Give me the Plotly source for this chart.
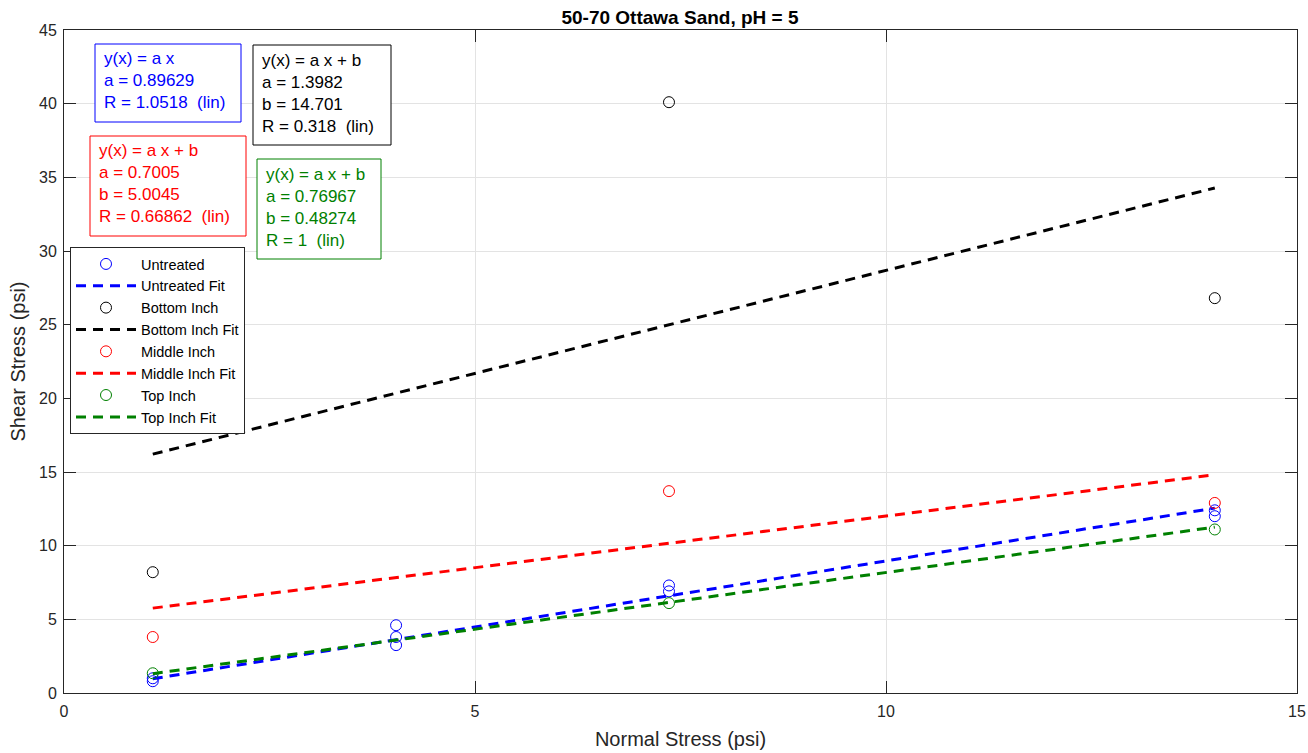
import plotly.graph_objects as go

# ---------------- data ----------------
x_untreated = [1.08, 1.08, 4.04, 4.04, 4.04, 7.36, 7.36, 14.0, 14.0]
y_untreated = [1.0, 0.8, 4.6, 3.8, 3.25, 7.3, 6.9, 12.4, 12.0]
x_bottom = [1.08, 7.36, 14.0]
y_bottom = [8.2, 40.1, 26.8]
x_middle = [1.08, 7.36, 14.0]
y_middle = [3.8, 13.7, 12.9]
x_top = [1.08, 7.36, 14.0]
y_top = [1.34, 6.1, 11.1]

fit_x = [1.08, 14.0]
untreated_fit = [0.89629, 0.0]
bottom_fit = [1.3982, 14.701]
middle_fit = [0.7005, 5.0045]
top_fit = [0.76967, 0.48274]

untreated_text = ["y(x) = a x", "a = 0.89629", "R = 1.0518  (lin)"]
bottom_text = ["y(x) = a x + b", "a = 1.3982", "b = 14.701", "R = 0.318  (lin)"]
middle_text = ["y(x) = a x + b", "a = 0.7005", "b = 5.0045", "R = 0.66862  (lin)"]
top_text = ["y(x) = a x + b", "a = 0.76967", "b = 0.48274", "R = 1  (lin)"]

x_ticks = [0, 5, 10, 15]
y_ticks = [0, 5, 10, 15, 20, 25, 30, 35, 40, 45]

# ---------------- style ----------------
FONT = "Liberation Sans, Arial, Helvetica, sans-serif"
BLUE, BLACK, RED, GREEN = "#0000FF", "#000000", "#FF0000", "#008000"
AX = "#262626"
DASH = "10px,7px"

W, H = 1308, 753
# target plot area in screen pixels
SX0, SX1, SY0, SY1 = 64, 1297, 30, 693
L, T = SX0, SY0
R, B = W - SX1, H - SY1
PW, PH = SX1 - SX0, SY1 - SY0


def px(xs):
    return (xs - SX0) / PW


def py(ys):
    return (SY1 - ys) / PH


def fit_line(coef):
    return [coef[0] * x + coef[1] for x in fit_x]


fig = go.Figure()

series = [
    ("Untreated", x_untreated, y_untreated, untreated_fit, BLUE),
    ("Bottom Inch", x_bottom, y_bottom, bottom_fit, BLACK),
    ("Middle Inch", x_middle, y_middle, middle_fit, RED),
    ("Top Inch", x_top, y_top, top_fit, GREEN),
]

for name, xs, ys, coef, col in series:
    fig.add_trace(go.Scatter(
        x=xs, y=ys, mode="markers", name=name,
        marker=dict(symbol="circle-open", size=11, color=col, line=dict(width=1, color=col)),
    ))
    fig.add_trace(go.Scatter(
        x=fit_x, y=fit_line(coef), mode="lines", name=name + " Fit",
        line=dict(color=col, width=3, dash=DASH),
    ))

# annotation boxes (screen pixel boxes: left, right, top, bottom)
boxes = [
    (untreated_text, BLUE, (95, 241, 44, 122), 103),
    (bottom_text, BLACK, (253, 391, 45, 145), 261),
    (middle_text, RED, (90, 246, 136, 236), 98),
    (top_text, GREEN, (257, 381, 159, 259), 265),
]

shapes = []
annotations = []
for lines, col, (x0, x1, y0, y1), tx in boxes:
    shapes.append(dict(
        type="rect", xref="paper", yref="paper",
        x0=px(x0), x1=px(x1), y0=py(y1), y1=py(y0),
        line=dict(color=col, width=1), fillcolor="white", layer="above",
    ))
    annotations.append(dict(
        xref="paper", yref="paper", x=px(tx), y=py((y0 + y1) / 2 - 2),
        xanchor="left", yanchor="middle", align="left",
        text="<br>".join(lines), showarrow=False,
        font=dict(family=FONT, size=17, color=col), borderpad=0,
    ))

fig.update_layout(
    width=W, height=H,
    margin=dict(l=L, r=R, t=T, b=B),
    paper_bgcolor="white", plot_bgcolor="white",
    title=dict(
        text="<b>50-70 Ottawa Sand, pH = 5</b>",
        x=px(680), xref="paper", xanchor="center",
        y=1 - 17 / H, yref="container", yanchor="middle",
        font=dict(family=FONT, size=19, color="#000000"),
    ),
    xaxis=dict(
        range=[0, 15], tickvals=x_ticks, ticktext=[str(v) for v in x_ticks],
        showgrid=True, gridcolor="#e3e3e3", gridwidth=1, zeroline=False,
        showline=True, linecolor=AX, linewidth=1, mirror="ticks",
        ticks="inside", ticklen=12, tickcolor=AX, tickwidth=1,
        tickfont=dict(family=FONT, size=16, color=AX), automargin=False,
        ticklabelstandoff=4,
        title=dict(text="Normal Stress (psi)", font=dict(family=FONT, size=20, color=AX), standoff=12),
    ),
    yaxis=dict(
        range=[0, 45], tickvals=y_ticks, ticktext=[str(v) for v in y_ticks],
        showgrid=True, gridcolor="#e3e3e3", gridwidth=1, zeroline=False,
        showline=True, linecolor=AX, linewidth=1, mirror="ticks",
        ticks="inside", ticklen=12, tickcolor=AX, tickwidth=1,
        tickfont=dict(family=FONT, size=16, color=AX), automargin=False,
        ticklabelstandoff=3,
        title=dict(text="Shear Stress (psi)", font=dict(family=FONT, size=20, color=AX), standoff=8),
    ),
    legend=dict(
        x=px(70), y=py(247), xanchor="left", yanchor="top",
        bgcolor="white", bordercolor=AX, borderwidth=1,
        font=dict(family=FONT, size=14.5, color="#000000"),
        itemwidth=60, tracegroupgap=0,
    ),
    shapes=shapes,
    annotations=annotations,
    showlegend=True,
)

fig.write_html(
    "out.html",
    config={"displayModeBar": False},
    post_script="document.body.style.margin='0px';document.body.style.overflow='hidden';",
)
